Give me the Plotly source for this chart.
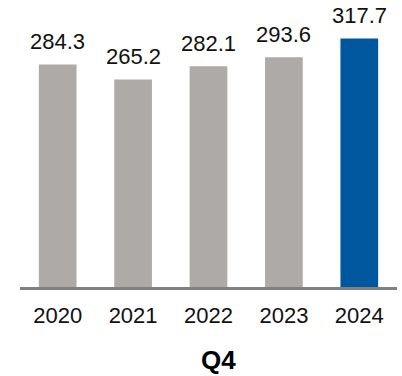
import plotly.graph_objects as go

years = ["2020", "2021", "2022", "2023", "2024"]
values = [284.3, 265.2, 282.1, 293.6, 317.7]
labels = ["284.3", "265.2", "282.1", "293.6", "317.7"]
colors = ["#ADAAA8", "#ADAAA8", "#ADAAA8", "#ADAAA8", "#00579E"]
title_text = "Q4"

FONT = "Arial, Liberation Sans, sans-serif"

fig = go.Figure()
fig.add_trace(go.Bar(x=years, y=values, marker=dict(color=colors, line=dict(width=0)),
                     hoverinfo="skip"))

for i, (v, lab) in enumerate(zip(values, labels)):
    fig.add_annotation(x=i, y=v, text=lab, showarrow=False, xref="x", yref="y",
                       yanchor="middle", yshift=23,
                       font=dict(family=FONT, size=22, color="#111111"))

fig.add_annotation(x=0.527, y=0, xref="paper", yref="paper", text="<b>" + title_text + "</b>",
                   showarrow=False, yanchor="middle", yshift=-73, borderpad=0,
                   font=dict(family=FONT, size=26, color="#000000"))

fig.update_layout(
    width=402, height=376,
    margin=dict(l=20, r=5, t=21, b=89),
    plot_bgcolor="white", paper_bgcolor="white",
    showlegend=False, bargap=0.5,
    font=dict(family=FONT, size=22, color="#111111"),
    xaxis=dict(type="category", range=[-0.5, len(years) - 0.5], showline=True,
               linecolor="#808080", linewidth=3, ticks="", ticklabelstandoff=7,
               showgrid=False, zeroline=False, fixedrange=True,
               tickfont=dict(family=FONT, size=22, color="#111111")),
    yaxis=dict(visible=False, range=[0, 340], showgrid=False, zeroline=False),
)

fig.write_html("out.html", config={"displayModeBar": False})
